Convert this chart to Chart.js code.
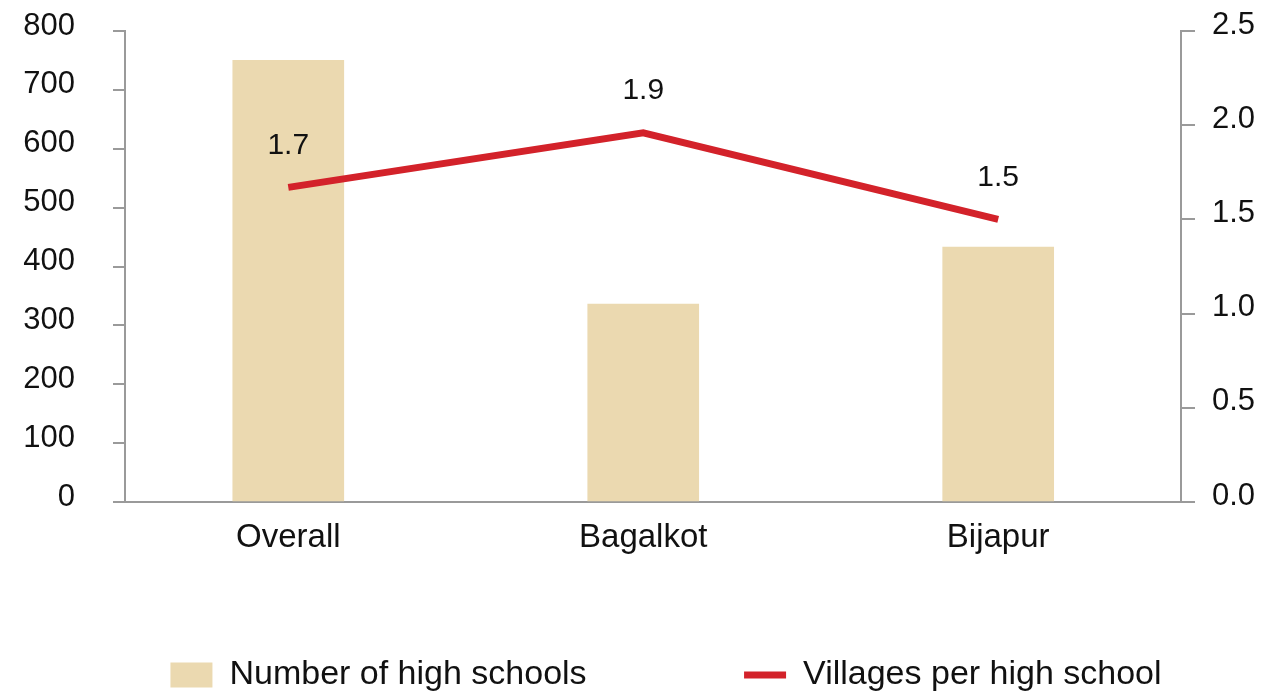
<!DOCTYPE html>
<html lang="en">
<head>
    <meta charset="UTF-8">
    <title>High schools</title>
    <script src="https://cdn.jsdelivr.net/npm/chart.js@4/dist/chart.umd.min.js"></script>
    <style>
        html, body { margin: 0; padding: 0; background: #fff; }
        #wrap { width: 1267px; height: 696px; }
    </style>
</head>
<body>
<div id="wrap"><canvas id="main_chart" width="1267" height="696"></canvas></div>
<script>
    // values
    const categories = ['Overall', 'Bagalkot', 'Bijapur'];
    const highSchools = [750, 336, 433];
    const villagesPerSchool = [1.67, 1.96, 1.5];
    const villagesLabels = ['1.7', '1.9', '1.5'];

    const BAR_COLOR = '#ebd9b0';
    const LINE_COLOR = '#d3222a';
    const AXIS_COLOR = '#9a9a9a';
    const FONT = '"Liberation Sans", Arial, sans-serif';

    // categories sit on an index axis; its ends are not symmetric in the original
    const X_MIN = -0.46;
    const X_MAX = 2.515;

    // prints the value above each point of the line
    const pointLabels = {
        id: 'pointLabels',
        afterDatasetsDraw(chart) {
            const meta = chart.getDatasetMeta(1);
            const ctx = chart.ctx;
            ctx.save();
            ctx.font = '30px ' + FONT;
            ctx.fillStyle = '#111';
            ctx.textAlign = 'center';
            ctx.textBaseline = 'middle';
            meta.data.forEach((pt, i) => {
                ctx.fillText(villagesLabels[i], pt.x, pt.y - 42);
            });
            ctx.restore();
        }
    };

    // fixed axis width, and no extra room above / below for the end labels
    function fixAxis(width) {
        return function (scale) {
            scale.width = width;
            scale.paddingTop = 0;
            scale.paddingBottom = 0;
        };
    }

    const canvas = document.getElementById('main_chart').getContext('2d');

    let chart = new Chart(canvas, {
        type: 'bar',
        data: {
            datasets: [{
                label: 'Number of high schools',
                data: highSchools.map((v, i) => ({x: i, y: v})),
                backgroundColor: BAR_COLOR,
                borderWidth: 0,
                barThickness: 111,
                pointStyle: 'rect',
                yAxisID: 'y',
                order: 2
            }, {
                type: 'line',
                label: 'Villages per high school',
                data: villagesPerSchool.map((v, i) => ({x: i, y: v})),
                borderColor: LINE_COLOR,
                backgroundColor: LINE_COLOR,
                borderWidth: 7,
                borderJoinStyle: 'miter',
                pointRadius: 0,
                pointStyle: 'line',
                tension: 0,
                yAxisID: 'y1',
                order: 1
            }]
        },
        options: {
            responsive: false,
            animation: false,
            // negative right padding pushes the legend centre right; right axis widened to keep its place
            layout: { padding: { top: 31, bottom: -6, left: 0, right: -65 } },
            scales: {
                x: {
                    type: 'linear',
                    min: X_MIN,
                    max: X_MAX,
                    offset: false,
                    grid: { display: false, drawTicks: false },
                    border: { display: true, color: AXIS_COLOR, width: 2 },
                    ticks: {
                        stepSize: 1,
                        includeBounds: false,
                        autoSkip: false,
                        maxRotation: 0,
                        color: '#111',
                        font: { size: 33, family: FONT },
                        padding: 16,
                        callback: (v) => categories[v] ?? ''
                    },
                    afterFit(scale) { scale.height = 144; }
                },
                y: {
                    position: 'left',
                    min: 0,
                    max: 800,
                    ticks: { stepSize: 100, color: '#111', font: { size: 31, family: FONT }, padding: 38, labelOffset: -5 },
                    grid: { drawOnChartArea: false, drawTicks: true, tickLength: 12, color: AXIS_COLOR, lineWidth: 2 },
                    border: { display: true, color: AXIS_COLOR, width: 2 },
                    afterFit: fixAxis(125)
                },
                y1: {
                    position: 'right',
                    min: 0,
                    max: 2.5,
                    ticks: {
                        stepSize: 0.5, color: '#111', font: { size: 31, family: FONT }, padding: 17, labelOffset: -6,
                        callback: (v) => Number(v).toFixed(1)
                    },
                    grid: { drawOnChartArea: false, drawTicks: true, tickLength: 14, color: AXIS_COLOR, lineWidth: 2 },
                    border: { display: true, color: AXIS_COLOR, width: 2 },
                    afterFit: fixAxis(151)
                }
            },
            plugins: {
                tooltip: { enabled: false },
                legend: {
                    position: 'bottom',
                    labels: {
                        usePointStyle: true,
                        pointStyleWidth: 42,
                        boxHeight: 25,
                        padding: 12,
                        color: '#111',
                        font: { size: 34, family: FONT },
                        generateLabels(c) {
                            const items = Chart.defaults.plugins.legend.labels.generateLabels(c);
                            items.sort((a, b) => a.datasetIndex - b.datasetIndex);
                            // wider gap after the first entry
                            items[0].text += '\u2002'.repeat(8) + '\u00a0';
                            return items;
                        }
                    }
                }
            }
        },
        plugins: [pointLabels]
    });
</script>
</body>
</html>
